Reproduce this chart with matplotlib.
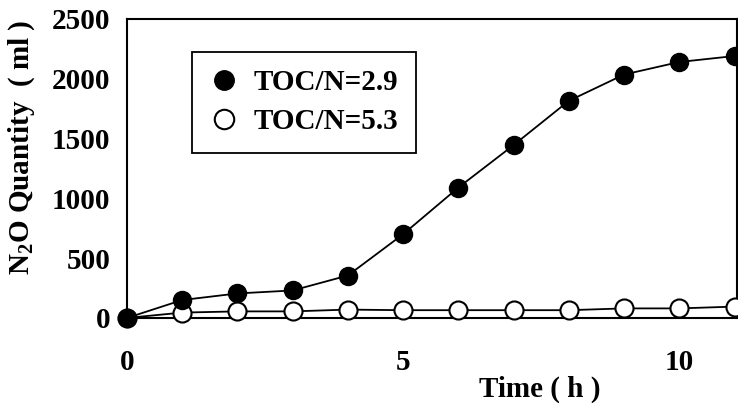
import numpy as np
import matplotlib
matplotlib.use('Agg')
import matplotlib.pyplot as plt
from matplotlib.lines import Line2D

plt.rcParams['font.family'] = ['Liberation Serif', 'DejaVu Serif']
plt.rcParams['font.weight'] = 'bold'
plt.rcParams['mathtext.fontset'] = 'custom'
plt.rcParams['mathtext.rm'] = 'Liberation Serif:bold'
plt.rcParams['mathtext.default'] = 'rm'

# data
time_h = [0, 1, 2, 3, 4, 5, 6, 7, 8, 9, 10, 11]
n2o_29 = [0, 150, 205, 230, 355, 700, 1090, 1445, 1815, 2035, 2140, 2190]
n2o_53 = [0, 45, 55, 55, 70, 65, 65, 65, 65, 80, 80, 95]
labels = ['TOC/N=2.9', 'TOC/N=5.3']

fig = plt.figure(figsize=(7.38, 4.03), dpi=100)
ax = fig.add_axes([0.172, 0.211, 0.827, 0.742])

# open series first so the filled points sit on top
ax.plot(time_h, n2o_53, '-o', color='black', lw=1.3, ms=13,
        mfc='white', mec='black', mew=1.5, clip_on=False, zorder=3)
ax.plot(time_h, n2o_29, '-o', color='black', lw=1.3, ms=13,
        mfc='black', mec='black', clip_on=False, zorder=4)

ax.set_xlim(0, 11.05)
ax.set_ylim(0, 2500)
ax.set_xticks([0, 5, 10])
ax.set_yticks([0, 500, 1000, 1500, 2000, 2500])
ax.tick_params(length=0, labelsize=21)
ax.tick_params(axis='x', pad=22)
ax.tick_params(axis='y', pad=12)
for sp in ax.spines.values():
    sp.set_linewidth(1.5)

handles = [
    Line2D([], [], ls='none', marker='o', ms=14, mfc='black', mec='black'),
    Line2D([], [], ls='none', marker='o', ms=14, mfc='white', mec='black', mew=1.5),
]
leg = ax.legend(handles, labels, loc='upper left', bbox_to_anchor=(0.107, 0.89),
                fontsize=21, frameon=True, fancybox=False, edgecolor='black',
                framealpha=1, borderaxespad=0, handlelength=1.0,
                handletextpad=0.5, borderpad=0.6, labelspacing=0.4)
leg.get_frame().set_linewidth(1.3)

fig.text(0.03, 0.635, 'N$_2$O Quantity  ( ml )', rotation=90, fontsize=21,
         fontweight='bold', ha='center', va='center')
fig.text(0.732, 0.033, 'Time ( h )', fontsize=21, fontweight='bold',
         ha='center', va='center')

fig.savefig('out.png', dpi=100)
